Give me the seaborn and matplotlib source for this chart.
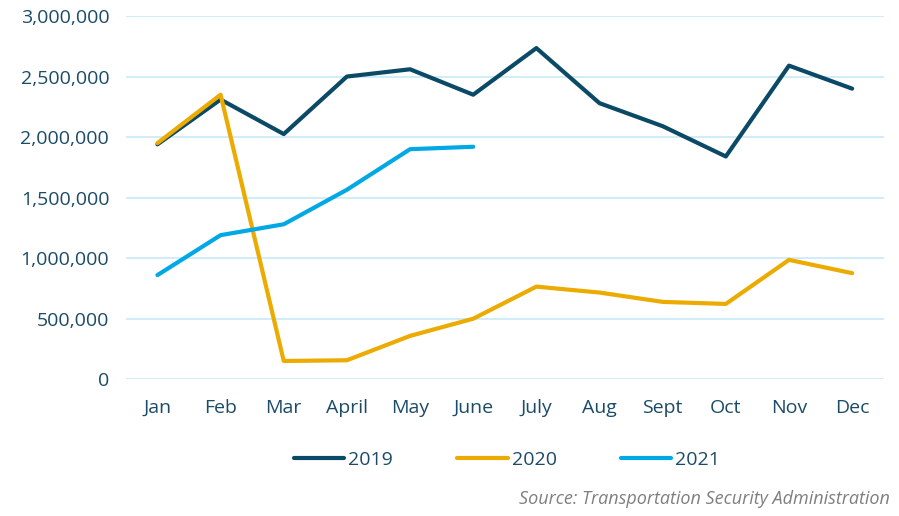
import seaborn as sns
import matplotlib.pyplot as plt
import pandas as pd
import numpy as np
from matplotlib.lines import Line2D

# monthly TSA throughput
months = ["Jan", "Feb", "Mar", "April", "May", "June", "July", "Aug", "Sept", "Oct", "Nov", "Dec"]
y2019 = [1940000, 2310000, 2025000, 2500000, 2560000, 2350000, 2735000, 2280000, 2090000, 1840000, 2590000, 2400000]
y2020 = [1950000, 2350000, 151000, 157000, 358000, 500000, 765000, 716000, 639000, 622000, 986000, 876000]
y2021 = [860000, 1190000, 1280000, 1565000, 1900000, 1920000]

years = ["2019", "2020", "2021"]
colors = {"2019": "#0B4A66", "2020": "#EBAB00", "2021": "#00A9E6"}

rows = []
for yr, vals in zip(years, [y2019, y2020, y2021]):
    for i, v in enumerate(vals):
        rows.append({"month": i, "year": yr, "travelers": v})
df = pd.DataFrame(rows)

sns.set_style("white")
plt.rcParams["font.family"] = ["Open Sans", "DejaVu Sans"]
text_color = "#1B4B66"

fig = plt.figure(figsize=(8.99, 5.16), dpi=100)
ax = fig.add_axes([0.140, 0.265, 0.843, 0.704])

sns.lineplot(data=df, x="month", y="travelers", hue="year", palette=colors,
             linewidth=3, ax=ax, legend=False)

ax.set_xlim(-0.5, 11.5)
ax.set_ylim(0, 3000000)
yt = np.arange(0, 3000001, 500000)
ax.set_yticks(yt)
ax.set_yticklabels([f"{int(v):,}" for v in yt])
ax.set_xticks(range(12))
ax.set_xticklabels(months)
ax.grid(axis="y", color="#C9EAF9", linewidth=1.2)
ax.set_axisbelow(True)
for s in ax.spines.values():
    s.set_visible(False)
ax.tick_params(axis="both", length=0, labelsize=14, colors=text_color)
ax.tick_params(axis="x", pad=14)
ax.tick_params(axis="y", pad=12)
ax.set_xlabel("")
ax.set_ylabel("")

handles = [Line2D([0], [0], color=colors[y], linewidth=3) for y in years]
leg = fig.legend(handles, years, loc="center", bbox_to_anchor=(0.564, 0.108), ncol=3,
                 frameon=False, fontsize=14, handlelength=2.6, handletextpad=0.2,
                 columnspacing=3.3)
for t in leg.get_texts():
    t.set_color(text_color)

fig.text(0.99, 0.015, "Source: Transportation Security Administration", ha="right", va="bottom",
         fontsize=13, style="italic", color="#7F7F7F")

fig.savefig("out.png", dpi=100)
